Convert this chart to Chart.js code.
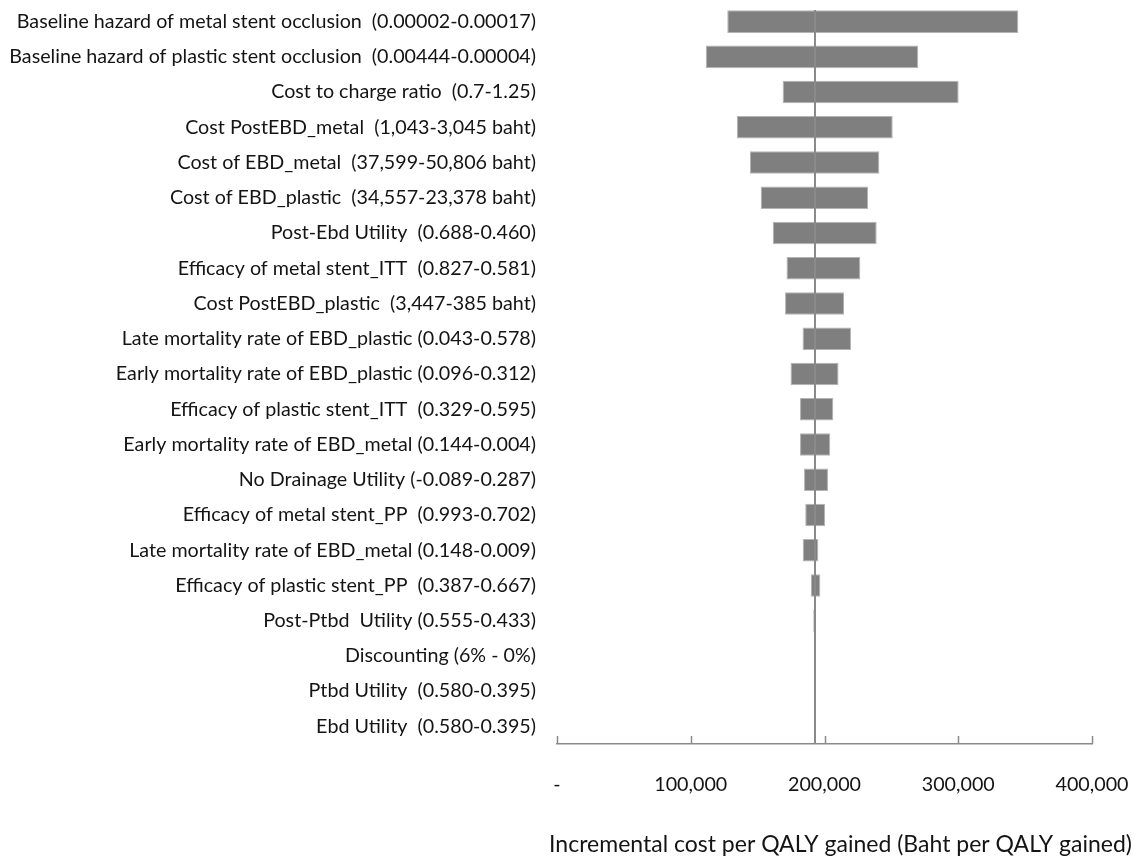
<!DOCTYPE html>
<html>
<head>
<meta charset="utf-8">
<title>Tornado diagram</title>
<script src="https://cdn.jsdelivr.net/npm/chart.js@4/dist/chart.umd.min.js"></script>
<style>
  html, body { margin: 0; padding: 0; background: #fff; }
  #wrap { width: 1134px; height: 859px; }
</style>
</head>
<body>
<div id="wrap"><canvas id="tornado" width="1134" height="859"></canvas></div>
<script>
// parameters, ordered from widest swing to narrowest
const parameters = [
  "Baseline hazard of metal stent occlusion  (0.00002-0.00017)",
  "Baseline hazard of plastic stent occlusion  (0.00444-0.00004)",
  "Cost to charge ratio  (0.7-1.25)",
  "Cost PostEBD_metal  (1,043-3,045 baht)",
  "Cost of EBD_metal  (37,599-50,806 baht)",
  "Cost of EBD_plastic  (34,557-23,378 baht)",
  "Post-Ebd Utility  (0.688-0.460)",
  "Efficacy of metal stent_ITT  (0.827-0.581)",
  "Cost PostEBD_plastic  (3,447-385 baht)",
  "Late mortality rate of EBD_plastic (0.043-0.578)",
  "Early mortality rate of EBD_plastic (0.096-0.312)",
  "Efficacy of plastic stent_ITT  (0.329-0.595)",
  "Early mortality rate of EBD_metal (0.144-0.004)",
  "No Drainage Utility (-0.089-0.287)",
  "Efficacy of metal stent_PP  (0.993-0.702)",
  "Late mortality rate of EBD_metal (0.148-0.009)",
  "Efficacy of plastic stent_PP  (0.387-0.667)",
  "Post-Ptbd  Utility (0.555-0.433)",
  "Discounting (6% - 0%)",
  "Ptbd Utility  (0.580-0.395)",
  "Ebd Utility  (0.580-0.395)"
];

// ICER (baht per QALY) at the low and high end of each range
const icerLow = [
  127300, 111200, 168700, 134400, 144300, 152300, 161300,
  171600, 170500, 183600, 174600, 181700, 181700, 184700,
  185600, 183700, 189700, 191600, 193100, 193100, 193100
];
const icerHigh = [
  344900, 270100, 300300, 251000, 241000, 232700, 239000,
  226800, 214600, 219800, 210500, 206600, 204300, 202600,
  200400, 195400, 196900, 193100, 193100, 193100, 193100
];

const baseIcer = 193100;
const xTickLabels = ["-", "100,000", "200,000", "300,000", "400,000"];
const xTitle = "Incremental cost per QALY gained (Baht per QALY gained)";

const grey = "#7f7f7f";
const axisGrey = "#8a8a8a";
const textColor = "#141414";
const labelFont = "Lato, 'Open Sans', sans-serif";

// base-case line, upward x tick marks, and the x title (drawn by hand so
// it can run wider than the plot area)
const tornadoExtras = {
  id: "tornadoExtras",
  afterDatasetsDraw(chart) {
    const { ctx, chartArea, scales } = chart;
    const x = scales.x;
    ctx.save();
    ctx.strokeStyle = axisGrey;
    ctx.lineWidth = 2;
    const bx = Math.round(x.getPixelForValue(baseIcer));
    ctx.beginPath();
    ctx.moveTo(bx, chartArea.top + 6);
    ctx.lineTo(bx, chartArea.bottom);
    ctx.stroke();

    ctx.lineWidth = 1.5;
    x.ticks.forEach((t) => {
      const px = Math.round(x.getPixelForValue(t.value)) + 0.5;
      ctx.beginPath();
      ctx.moveTo(px, chartArea.bottom);
      ctx.lineTo(px, chartArea.bottom - 8);
      ctx.stroke();
    });

    ctx.fillStyle = textColor;
    ctx.font = "23px " + labelFont;
    ctx.textAlign = "center";
    ctx.textBaseline = "middle";
    ctx.fillText(xTitle, (x.left + chart.width) / 2 - 5, x.bottom - 14);
    ctx.restore();
  }
};

new Chart(document.getElementById("tornado").getContext("2d"), {
  type: "bar",
  data: {
    labels: parameters,
    datasets: [
      {
        label: "ICER range",
        data: icerLow.map((lo, i) => [lo, icerHigh[i]]),
        backgroundColor: grey,
        borderColor: "#b4b4b4",
        borderWidth: 1,
        borderSkipped: false,
        barPercentage: 0.64,
        categoryPercentage: 1.0
      }
    ]
  },
  options: {
    indexAxis: "y",
    responsive: false,
    animation: false,
    layout: { padding: { top: 4, right: 42, bottom: 0, left: 0 } },
    plugins: {
      legend: { display: false },
      tooltip: { enabled: false }
    },
    scales: {
      x: {
        min: 0,
        max: 400000,
        grid: { display: false, drawTicks: false },
        border: { display: true, color: axisGrey, width: 1.5 },
        afterFit(scale) {
          scale.height = 115;
          scale.paddingLeft = 0;
          scale.paddingRight = 0;
        },
        ticks: {
          stepSize: 100000,
          padding: 29,
          maxRotation: 0,
          color: textColor,
          font: { family: labelFont, size: 19.7 },
          callback: (v, i) => xTickLabels[i]
        },
        title: { display: false }
      },
      y: {
        grid: { display: false, drawTicks: false },
        border: { display: false },
        afterFit(scale) {
          scale.width = 557;
          scale.paddingTop = 0;
          scale.paddingBottom = 0;
        },
        ticks: {
          padding: 21,
          autoSkip: false,
          color: textColor,
          font: { family: labelFont, size: 19.7 }
        }
      }
    }
  },
  plugins: [tornadoExtras]
});
</script>
</body>
</html>
